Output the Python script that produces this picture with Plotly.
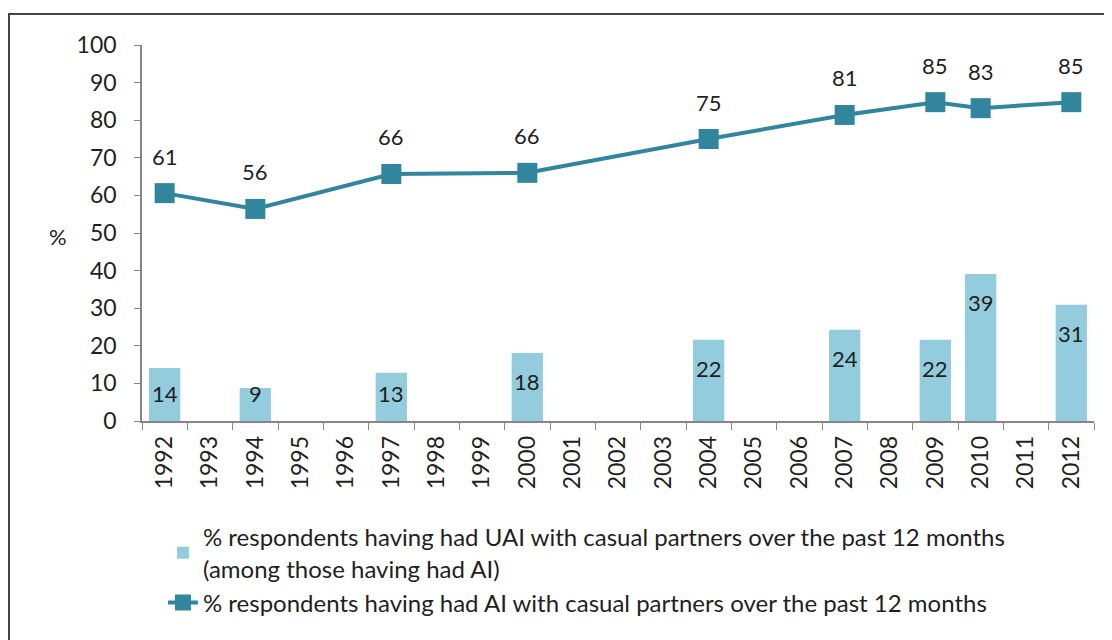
import plotly.graph_objects as go

years = ["1992", "1993", "1994", "1995", "1996", "1997", "1998", "1999", "2000", "2001",
         "2002", "2003", "2004", "2005", "2006", "2007", "2008", "2009", "2010", "2011", "2012"]

uai_years = ["1992", "1994", "1997", "2000", "2004", "2007", "2009", "2010", "2012"]
uai_values = [14.1, 8.8, 12.8, 18.1, 21.6, 24.3, 21.6, 39.1, 30.9]

ai_years = ["1992", "1994", "1997", "2000", "2004", "2007", "2009", "2010", "2012"]
ai_values = [60.6, 56.4, 65.7, 66.0, 75.0, 81.4, 84.8, 83.2, 84.8]

uai_name = "% respondents having had UAI with casual partners over the past 12 months<br>(among those having had AI)"
ai_name = "% respondents having had AI with casual partners over the past 12 months"

FONT = "Lato"
TXT = "#1f1f1f"
BAR_C = "#93CDDD"
LINE_C = "#31859C"

fig = go.Figure()
fig.add_trace(go.Bar(x=uai_years, y=uai_values, name=uai_name, marker_color=BAR_C,
                     marker_line_width=0))
fig.add_trace(go.Scatter(x=ai_years, y=ai_values, name=ai_name, mode="lines+markers",
                         line=dict(color=LINE_C, width=4),
                         marker=dict(symbol="square", size=20, color=LINE_C)))

annotations = []
for yr, v in zip(uai_years, uai_values):
    annotations.append(dict(x=years.index(yr), y=max(v - 7.7, 7.2), xref="x", yref="y",
                            text=f"{v:.0f}", showarrow=False,
                            font=dict(family=FONT, size=22, color=TXT)))
for yr, v in zip(ai_years, ai_values):
    annotations.append(dict(x=years.index(yr), y=v, xref="x", yref="y", yshift=37,
                            text=f"{v:.0f}", showarrow=False,
                            font=dict(family=FONT, size=22, color=TXT)))
annotations.append(dict(x=-0.0995, y=0.492, xref="paper", yref="paper", text="%",
                        showarrow=False, font=dict(family=FONT, size=22, color=TXT)))

fig.update_layout(
    width=1104, height=632,
    margin=dict(l=134, r=18, t=37, b=219),
    paper_bgcolor="white", plot_bgcolor="white",
    bargap=0.31,
    showlegend=True,
    legend=dict(x=0.022, y=-0.25, xanchor="left", yanchor="top",
                font=dict(family=FONT, size=24, color=TXT),
                traceorder="normal", tracegroupgap=0, bgcolor="rgba(0,0,0,0)"),
    annotations=annotations,
    font=dict(family=FONT, color=TXT),
    shapes=[dict(type="rect", xref="paper", yref="paper", x0=-0.1397, x1=1.04,
                 y0=-0.65, y1=1.0824, line=dict(color="#444444", width=2),
                 fillcolor="rgba(0,0,0,0)", layer="below")],
)
fig.update_xaxes(type="category", categoryorder="array", categoryarray=years,
                 range=[-0.5, 20.5], tickangle=-90, tickson="boundaries",
                 ticks="outside", ticklen=7, tickcolor="#868686",
                 showline=True, linecolor="#868686", linewidth=1.5, ticklabelstandoff=4,
                 showgrid=False, tickfont=dict(family=FONT, size=23, color=TXT))
fig.update_yaxes(range=[0, 100], dtick=10, ticks="outside", ticklen=6, tickcolor="#868686",
                 showline=True, linecolor="#868686", linewidth=1.5, showgrid=False,
                 ticklabelstandoff=13,
                 zeroline=False, tickfont=dict(family=FONT, size=23, color=TXT))

fig.write_html("out.html")
